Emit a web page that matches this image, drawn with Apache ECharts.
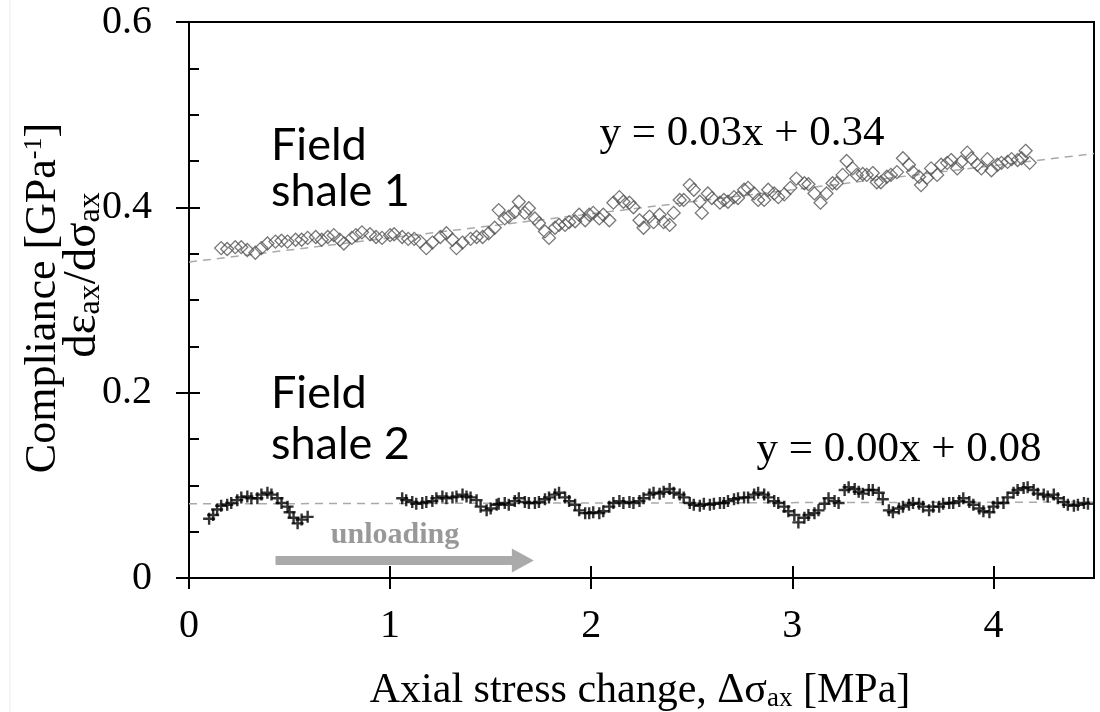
<!DOCTYPE html>
<html>
<head>
<meta charset="utf-8">
<script src="https://cdn.jsdelivr.net/npm/echarts@6/dist/echarts.min.js"></script>
<style>
  html, body { margin: 0; padding: 0; background: #fff; }
  #chart { width: 1100px; height: 712px; }
</style>
</head>
<body>
<div id="chart"></div>
<script>
// shale 1: [axial stress change, compliance]
var shale1Points = [
  [0.16,0.356],[0.19,0.355],[0.23,0.357],[0.26,0.357],[0.29,0.354],[0.33,0.351],[0.36,0.356],[0.39,0.361],
  [0.43,0.363],[0.46,0.364],[0.49,0.363],[0.53,0.365],[0.56,0.365],[0.59,0.367],[0.63,0.368],[0.66,0.365],
  [0.69,0.368],[0.72,0.370],[0.75,0.365],[0.77,0.361],[0.81,0.367],[0.83,0.370],[0.86,0.373],[0.90,0.371],
  [0.93,0.368],[0.96,0.367],[1.00,0.370],[1.02,0.371],[1.06,0.368],[1.09,0.366],[1.12,0.366],[1.15,0.363],
  [1.18,0.356],[1.21,0.362],[1.25,0.368],[1.28,0.372],[1.31,0.365],[1.33,0.356],[1.36,0.362],[1.40,0.366],
  [1.43,0.368],[1.46,0.368],[1.49,0.372],[1.52,0.378],[1.54,0.397],[1.57,0.388],[1.59,0.390],[1.62,0.395],
  [1.64,0.406],[1.67,0.394],[1.69,0.399],[1.72,0.388],[1.74,0.383],[1.77,0.374],[1.79,0.367],[1.82,0.378],
  [1.84,0.381],[1.87,0.381],[1.89,0.384],[1.92,0.385],[1.94,0.392],[1.97,0.386],[1.99,0.392],[2.01,0.394],
  [2.04,0.388],[2.06,0.392],[2.09,0.386],[2.11,0.405],[2.14,0.411],[2.16,0.406],[2.19,0.405],[2.21,0.400],
  [2.24,0.386],[2.26,0.378],[2.29,0.390],[2.31,0.384],[2.34,0.392],[2.36,0.384],[2.39,0.381],[2.41,0.394],
  [2.44,0.408],[2.46,0.408],[2.49,0.424],[2.51,0.419],[2.54,0.406],[2.55,0.394],[2.58,0.415],[2.60,0.410],
  [2.64,0.405],[2.66,0.408],[2.68,0.406],[2.71,0.411],[2.73,0.410],[2.76,0.419],[2.78,0.421],[2.81,0.415],
  [2.83,0.408],[2.86,0.408],[2.88,0.419],[2.91,0.415],[2.93,0.411],[2.96,0.414],[2.99,0.421],[3.02,0.431],
  [3.06,0.426],[3.08,0.425],[3.11,0.415],[3.14,0.405],[3.17,0.415],[3.20,0.426],[3.22,0.426],[3.25,0.435],
  [3.27,0.450],[3.30,0.442],[3.32,0.435],[3.35,0.436],[3.37,0.435],[3.40,0.437],[3.42,0.427],[3.44,0.427],
  [3.47,0.433],[3.49,0.435],[3.52,0.438],[3.55,0.453],[3.58,0.446],[3.60,0.438],[3.63,0.433],[3.64,0.424],
  [3.67,0.432],[3.69,0.442],[3.72,0.435],[3.74,0.446],[3.77,0.448],[3.79,0.451],[3.82,0.442],[3.84,0.449],
  [3.87,0.459],[3.89,0.453],[3.92,0.446],[3.94,0.442],[3.97,0.452],[3.99,0.440],[4.02,0.446],[4.04,0.448],
  [4.07,0.449],[4.09,0.452],[4.12,0.451],[4.14,0.453],[4.16,0.461],[4.18,0.448]
];

// shale 2: [axial stress change, compliance]
var shale2Points = [
  [0.10,0.064],[0.12,0.068],[0.14,0.074],[0.16,0.078],[0.19,0.079],[0.21,0.081],[0.24,0.084],[0.26,0.087],
  [0.29,0.088],[0.31,0.086],[0.34,0.086],[0.36,0.090],[0.39,0.092],[0.41,0.090],[0.44,0.086],[0.46,0.081],
  [0.49,0.077],[0.50,0.071],[0.52,0.065],[0.54,0.059],[0.56,0.063],[0.59,0.066],
  [1.06,0.086],[1.08,0.084],[1.11,0.082],[1.13,0.080],[1.16,0.081],[1.18,0.082],[1.21,0.083],[1.23,0.086],
  [1.26,0.088],[1.28,0.086],[1.31,0.087],[1.33,0.088],[1.36,0.090],[1.38,0.088],[1.40,0.087],[1.43,0.084],
  [1.45,0.077],[1.48,0.073],[1.50,0.075],[1.53,0.079],[1.54,0.080],[1.57,0.081],[1.59,0.079],[1.62,0.083],
  [1.64,0.086],[1.67,0.082],[1.69,0.081],[1.72,0.081],[1.74,0.082],[1.77,0.085],[1.79,0.087],[1.82,0.090],
  [1.84,0.092],[1.87,0.087],[1.89,0.083],[1.92,0.079],[1.94,0.073],[1.97,0.070],[1.99,0.070],[2.01,0.071],
  [2.04,0.070],[2.06,0.072],[2.09,0.077],[2.11,0.081],[2.14,0.083],[2.16,0.081],[2.19,0.082],[2.21,0.081],
  [2.24,0.083],[2.26,0.086],[2.29,0.090],[2.31,0.092],[2.34,0.091],[2.36,0.093],[2.39,0.096],[2.41,0.092],
  [2.44,0.090],[2.46,0.087],[2.49,0.081],[2.51,0.079],[2.54,0.078],[2.56,0.080],[2.59,0.079],[2.61,0.080],
  [2.64,0.081],[2.66,0.081],[2.68,0.083],[2.71,0.085],[2.73,0.086],[2.76,0.087],[2.78,0.087],[2.81,0.090],
  [2.83,0.092],[2.86,0.090],[2.88,0.087],[2.91,0.083],[2.93,0.081],[2.96,0.077],[2.98,0.072],[3.01,0.068],
  [3.03,0.060],[3.06,0.065],[3.08,0.068],[3.11,0.070],[3.13,0.073],[3.16,0.080],[3.18,0.086],[3.21,0.083],
  [3.23,0.081],[3.26,0.095],[3.28,0.098],[3.31,0.096],[3.33,0.093],[3.35,0.091],[3.38,0.095],[3.40,0.095],
  [3.43,0.092],[3.45,0.085],[3.48,0.073],[3.50,0.071],[3.53,0.075],[3.55,0.077],[3.58,0.079],[3.60,0.081],
  [3.63,0.080],[3.65,0.077],[3.68,0.073],[3.70,0.077],[3.73,0.077],[3.75,0.080],[3.78,0.081],[3.80,0.081],
  [3.83,0.083],[3.85,0.086],[3.88,0.082],[3.90,0.079],[3.93,0.075],[3.95,0.072],[3.98,0.071],[4.00,0.077],
  [4.02,0.081],[4.05,0.081],[4.07,0.087],[4.10,0.092],[4.12,0.095],[4.15,0.097],[4.17,0.098],[4.20,0.095],
  [4.22,0.091],[4.25,0.090],[4.27,0.088],[4.30,0.090],[4.32,0.086],[4.35,0.082],[4.37,0.079],[4.40,0.078],
  [4.42,0.079],[4.45,0.081],[4.47,0.080]
];

// linear fits (dashed)
var fit1Points = [[0, 0.341], [4.5, 0.458]];
var fit2Points = [[0, 0.080], [4.5, 0.082]];

// "unloading" arrow, start and end
var arrowPoints = [[0.43, 0.019], [1.66, 0.019]];

var xTicks = [0, 1, 2, 3, 4];

var serif = '"Liberation Serif", "Times New Roman", serif';
var sans = 'Lato, "Open Sans", sans-serif';

var myChart = echarts.init(document.getElementById('chart'));

var option = {
    animation: false,
    backgroundColor: '#fff',
    grid: {
        left: 189,
        right: 6,
        top: 22,
        bottom: 134,
        show: true,
        borderColor: '#000',
        borderWidth: 2,
        backgroundColor: 'transparent'
    },
    xAxis: [
        {
            type: 'value',
            min: 0,
            max: 4.5,
            interval: 1,
            splitLine: { show: false },
            axisLine: { lineStyle: { color: '#000', width: 2 } },
            axisTick: { inside: false, length: 11, customValues: xTicks, lineStyle: { color: '#000', width: 2 } },
            axisLabel: {
                customValues: xTicks,
                margin: 28,
                color: '#000',
                fontFamily: serif,
                fontSize: 40
            }
        },
        {
            type: 'value',
            position: 'bottom',
            min: 0,
            max: 4.5,
            interval: 1,
            splitLine: { show: false },
            axisLine: { show: false },
            axisTick: { inside: true, length: 12, customValues: xTicks, lineStyle: { color: '#000', width: 2 } },
            axisLabel: { show: false }
        }
    ],
    yAxis: [
        {
            type: 'value',
            min: 0,
            max: 0.6,
            interval: 0.2,
            splitLine: { show: false },
            axisLine: { lineStyle: { color: '#000', width: 2 } },
            axisTick: { inside: false, length: 13, lineStyle: { color: '#000', width: 2 } },
            axisLabel: {
                margin: 37,
                color: '#000',
                fontFamily: serif,
                fontSize: 40
            }
        },
        {
            type: 'value',
            position: 'left',
            min: 0,
            max: 0.6,
            interval: 0.2,
            splitLine: { show: false },
            axisLine: { show: false },
            axisTick: { inside: true, length: 11, lineStyle: { color: '#000', width: 2 } },
            minorTick: { show: true, splitNumber: 4, length: 10, lineStyle: { color: '#000', width: 2 } },
            axisLabel: { show: false }
        }
    ],
    series: [
        // trend line shale 1
        {
            type: 'line',
            data: fit1Points,
            symbol: 'none',
            silent: true,
            z: 1,
            lineStyle: { color: '#aaa', width: 1.5, type: [8, 6] }
        },
        // trend line shale 2 (+ unloading arrow)
        {
            type: 'line',
            data: fit2Points,
            symbol: 'none',
            silent: true,
            z: 1,
            lineStyle: { color: '#aaa', width: 1.5, type: [8, 6] },
            markLine: {
                silent: true,
                symbol: ['none', 'triangle'],
                symbolSize: [24, 22],
                label: { show: false },
                lineStyle: { color: '#aaa', width: 9, type: 'solid' },
                data: [[{ coord: arrowPoints[0] }, { coord: arrowPoints[1] }]]
            }
        },
        // shale 1
        {
            type: 'scatter',
            data: shale1Points,
            symbol: 'diamond',
            symbolSize: 13,
            z: 3,
            itemStyle: { color: 'rgba(255,255,255,0)', borderColor: '#555', borderWidth: 1.3 }
        },
        // shale 2
        {
            type: 'scatter',
            data: shale2Points,
            symbol: 'path://M4,0H6V4H10V6H6V10H4V6H0V4H4Z',
            symbolSize: 12,
            z: 3,
            itemStyle: { color: '#000' }
        }
    ],
    graphic: [
        { type: 'line', shape: { x1: 10, y1: 0, x2: 10, y2: 712 }, style: { stroke: '#ececec', lineWidth: 1 } },
        // y axis title
        {
            type: 'text', x: 43, y: 298, rotation: Math.PI / 2,
            style: {
                text: 'Compliance [GPa{sup|-1}]',
                font: '44px ' + serif, fill: '#000', align: 'center', verticalAlign: 'middle',
                rich: {
                    sup: { fontSize: 26, fontFamily: serif, lineHeight: 18, verticalAlign: 'top', fill: '#000' }
                }
            }
        },
        {
            type: 'text', x: 83, y: 275, rotation: Math.PI / 2,
            style: {
                text: 'd\u03b5{sub|ax}/d\u03c3{sub|ax}',
                font: '47px ' + serif, fill: '#000', align: 'center', verticalAlign: 'middle',
                rich: {
                    sub: { fontSize: 32, fontFamily: serif, lineHeight: 20, verticalAlign: 'bottom', fill: '#000' }
                }
            }
        },
        // x axis title
        {
            type: 'text', x: 640, y: 691,
            style: {
                text: 'Axial stress change, \u0394\u03c3{sub|ax} [MPa]',
                font: '42px ' + serif, fill: '#000', align: 'center', verticalAlign: 'middle',
                rich: {
                    sub: { fontSize: 27, fontFamily: serif, lineHeight: 18, verticalAlign: 'bottom', fill: '#000' }
                }
            }
        },
        // series labels
        { type: 'text', x: 271, y: 145, style: { text: 'Field', font: '45px ' + sans, fill: '#000', verticalAlign: 'middle' } },
        { type: 'text', x: 271, y: 191, style: { text: 'shale 1', font: '45px ' + sans, fill: '#000', verticalAlign: 'middle' } },
        { type: 'text', x: 271, y: 393, style: { text: 'Field', font: '45px ' + sans, fill: '#000', verticalAlign: 'middle' } },
        { type: 'text', x: 271, y: 444, style: { text: 'shale 2', font: '45px ' + sans, fill: '#000', verticalAlign: 'middle' } },
        // fit equations
        { type: 'text', x: 742, y: 134, style: { text: 'y = 0.03x + 0.34', font: '43px ' + serif, fill: '#000', align: 'center', verticalAlign: 'middle' } },
        { type: 'text', x: 899, y: 450, style: { text: 'y = 0.00x + 0.08', font: '43px ' + serif, fill: '#000', align: 'center', verticalAlign: 'middle' } },
        // unloading
        { type: 'text', x: 395, y: 535, style: { text: 'unloading', font: 'bold 30px ' + serif, fill: '#999', align: 'center', verticalAlign: 'middle' } }
    ]
};
myChart.setOption(option);
</script>
</body>
</html>
